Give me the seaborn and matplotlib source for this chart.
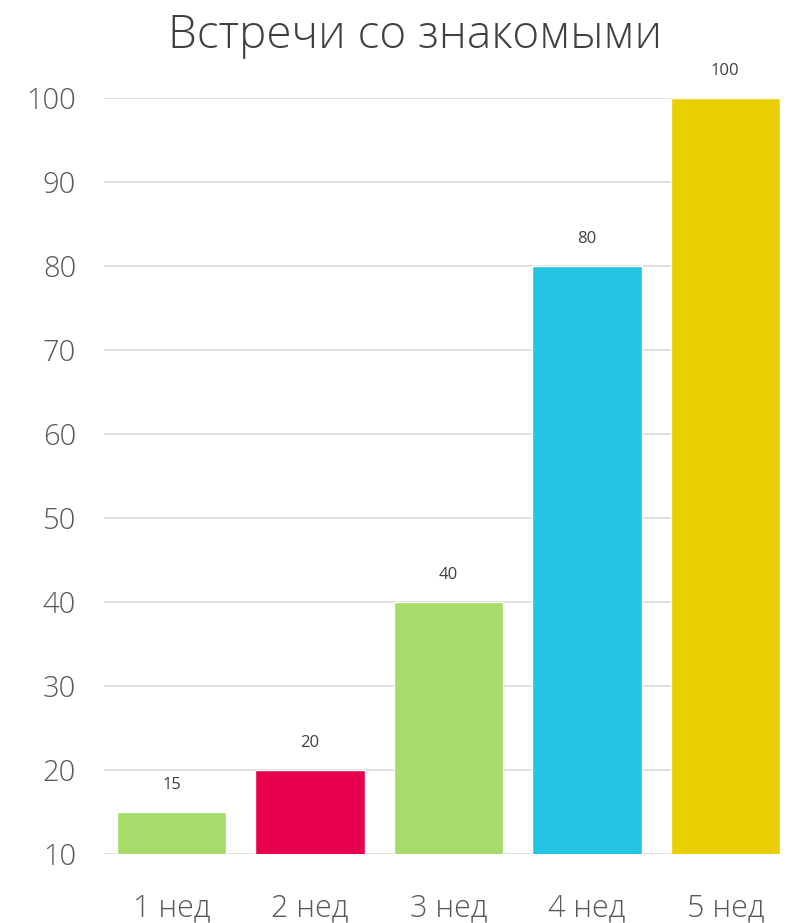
import matplotlib
matplotlib.use("Agg")
import matplotlib.pyplot as plt
import seaborn as sns
import pandas as pd

categories = ["1 нед", "2 нед", "3 нед", "4 нед", "5 нед"]
values = [15, 20, 40, 80, 100]
colors = ["#a5dc6a", "#e6004f", "#a5dc6a", "#23c3e2", "#e8cf00"]
yticks = [10, 20, 30, 40, 50, 60, 70, 80, 90, 100]
title = "Встречи со знакомыми"

sns.set_theme(style="white")
plt.rcParams["font.family"] = ["Open Sans", "DejaVu Sans"]

df = pd.DataFrame({"cat": categories, "val": values})
fig = plt.figure(figsize=(7.87, 9.23), dpi=100)
ax = fig.add_axes([0.132, 0.0748, 0.86, 0.819])
sns.barplot(data=df, x="cat", y="val", hue="cat", palette=colors, legend=False,
            width=0.79, ax=ax, saturation=1, zorder=3)
ax.set_ylim(10, 100)
ax.set_xlim(-0.49, 4.40)
ax.set_yticks(yticks)
ax.grid(axis="y", color="#d9d9d9", linewidth=1.2, zorder=0)
ax.set_axisbelow(True)
for s in ax.spines.values():
    s.set_visible(False)
ax.tick_params(axis="both", length=0, labelcolor="#595959")
ax.tick_params(axis="y", pad=20, labelsize=21)
ax.tick_params(axis="x", pad=28, labelsize=22)
for lab in ax.get_xticklabels() + ax.get_yticklabels():
    lab.set_fontweight("light")
ax.set_xlabel("")
ax.set_ylabel("")
for i, v in enumerate(values):
    ax.annotate(str(v), (i, v), xytext=(0, 14), textcoords="offset points",
                ha="center", va="bottom", fontsize=12, color="#404040")
fig.text(0.527, 0.961, title, ha="center", va="center", fontsize=33,
         color="#404040", fontweight="light")
fig.savefig("out.png", dpi=100, facecolor="white")
